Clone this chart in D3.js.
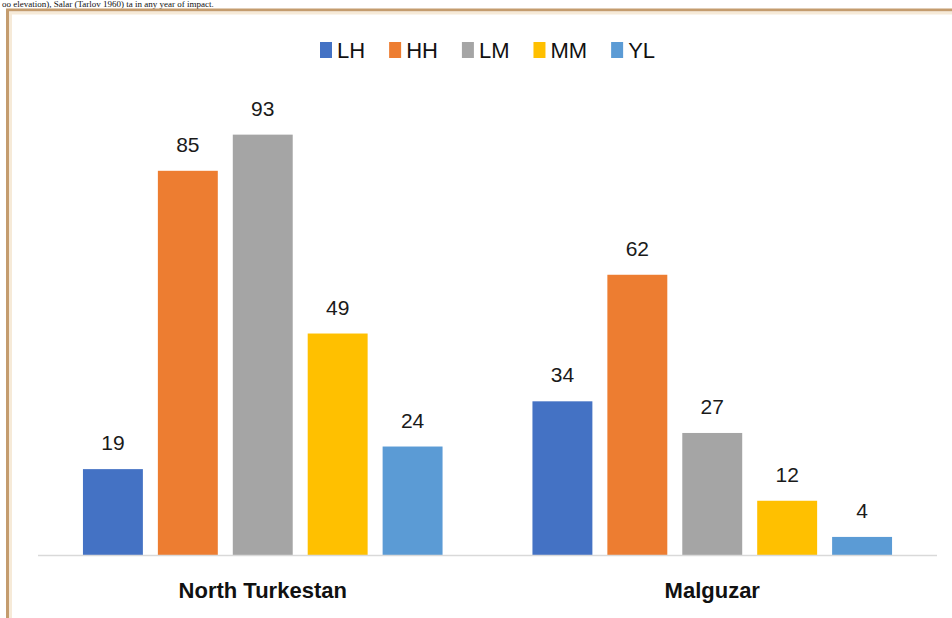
<!DOCTYPE html>
<html>
<head>
<meta charset="utf-8">
<script src="https://cdn.jsdelivr.net/npm/d3@7"></script>
<style>
  html, body { margin: 0; padding: 0; background: #fff; }
  svg { display: block; }
</style>
</head>
<body>
<svg id="chart" width="952" height="618"></svg>
<script>
// Regions (x groups), series and their values
const regions = ["North Turkestan", "Malguzar"];
const seriesNames = ["LH", "HH", "LM", "MM", "YL"];
const seriesColors = ["#4472C4", "#ED7D31", "#A5A5A5", "#FFC000", "#5B9BD5"];
const valuesNorthTurkestan = [19, 85, 93, 49, 24];
const valuesMalguzar = [34, 62, 27, 12, 4];
const yDomainMax = 100;

const rows = [valuesNorthTurkestan, valuesMalguzar].map((vals, i) => ({
  region: regions[i],
  items: seriesNames.map((s, j) => ({ series: s, value: vals[j] }))
}));

const svg = d3.select("#chart");
const W = 952, H = 618;

// Running text line of the surrounding page, above the chart box
svg.append("text")
  .attr("x", 2).attr("y", 7)
  .attr("font-family", "'Liberation Serif', 'Times New Roman', serif")
  .attr("font-size", 9)
  .attr("fill", "#111")
  .text("oo elevation), Salar (Tarlov 1960) ta in any year of impact.");

// Frame of the chart box
svg.append("rect")
  .attr("x", 7.5).attr("y", 10)
  .attr("width", W + 20).attr("height", H + 20)
  .attr("fill", "#fff")
  .attr("stroke", "#c49c6e").attr("stroke-width", 3);
svg.append("rect")
  .attr("x", 10.5).attr("y", 13)
  .attr("width", W + 20).attr("height", H + 20)
  .attr("fill", "none")
  .attr("stroke", "#f6ead8").attr("stroke-width", 3);

// Scales
const plotLeft = 38, plotRight = 937, baseY = 555, topY = 103;
const x0 = d3.scaleBand().domain(regions).range([plotLeft, plotRight]).padding(0);
const x1 = d3.scaleBand().domain(seriesNames).range([0, x0.bandwidth()])
  .paddingInner(0.2).paddingOuter(0.6);
const y = d3.scaleLinear().domain([0, yDomainMax]).range([baseY, topY]);
const color = d3.scaleOrdinal().domain(seriesNames).range(seriesColors);

// Bars and value labels
const groups = svg.append("g").selectAll("g").data(rows).join("g")
  .attr("transform", d => `translate(${x0(d.region)},0)`);

groups.selectAll("rect").data(d => d.items).join("rect")
  .attr("x", d => x1(d.series))
  .attr("y", d => y(d.value))
  .attr("width", x1.bandwidth())
  .attr("height", d => y(0) - y(d.value))
  .attr("fill", d => color(d.series));

groups.selectAll("text").data(d => d.items).join("text")
  .attr("x", d => x1(d.series) + x1.bandwidth() / 2)
  .attr("y", d => y(d.value) - 19)
  .attr("text-anchor", "middle")
  .attr("font-family", "'Liberation Sans', Arial, sans-serif")
  .attr("font-size", 21)
  .attr("fill", "#1a1a1a")
  .text(d => d.value);

// Category axis
const xAxis = svg.append("g")
  .attr("transform", `translate(0,${baseY + 0.5})`)
  .call(d3.axisBottom(x0).tickSize(0).tickPadding(27));
xAxis.select(".domain").attr("stroke", "#d9d9d9").attr("stroke-width", 1.5)
  .attr("d", `M${plotLeft},0H${plotRight}`);
xAxis.selectAll("text")
  .attr("font-family", "'Liberation Sans', Arial, sans-serif")
  .attr("font-size", 22)
  .attr("font-weight", "bold")
  .attr("fill", "#111");

// Legend
const legend = svg.append("g").attr("transform", "translate(0,50)");
let lx = 320;
seriesNames.forEach(s => {
  legend.append("rect")
    .attr("x", lx).attr("y", -8)
    .attr("width", 12).attr("height", 16)
    .attr("fill", color(s));
  const t = legend.append("text")
    .attr("x", lx + 17).attr("y", 0)
    .attr("dy", "0.36em")
    .attr("font-family", "'Liberation Sans', Arial, sans-serif")
    .attr("font-size", 22)
    .attr("fill", "#111")
    .text(s);
  lx += 17 + t.node().getComputedTextLength() + 24;
});
</script>
</body>
</html>
